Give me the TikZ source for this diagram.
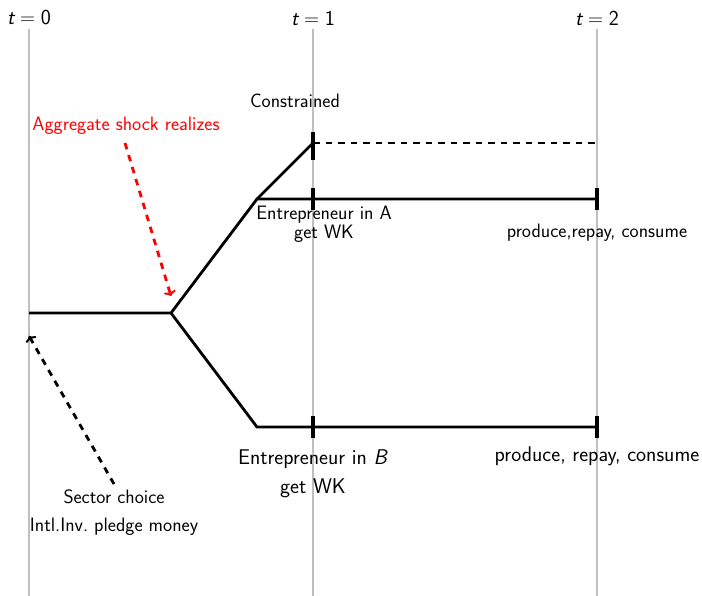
\documentclass[tikz,border=0pt]{standalone}
\usepackage{fontspec}
\usetikzlibrary{arrows.meta}
\newcommand{\timelabel}[1]{$\textit{t}=\mbox{#1}$}
\begin{document}
\sffamily
\begin{tikzpicture}[x=1pt,y=-1pt,
  timeline/.style={draw=black!25, line width=1.5pt},
  branch/.style={line width=2.8pt, line cap=butt, line join=miter},
  tick/.style={line width=3.2pt},
  pending/.style={line width=2.8pt, dash pattern=on 6.5pt off 6pt},
  hint/.style={line width=2.8pt, dash pattern=on 6.5pt off 6pt, -{To[length=5pt,width=12pt,line width=2pt]}},
  bigtext/.style={inner sep=0pt, align=center, font=\fontsize{21.3}{25}\selectfont},
  smalltext/.style={inner sep=0pt, align=center, font=\fontsize{19.4}{23}\selectfont}
]
\useasboundingbox (0,0) rectangle (702,596);

% time axis
\foreach \x/\t in {29/0, 313/1, 597/2} {
  \coordinate (top\t) at (\x,29);
  \coordinate (bot\t) at (\x,596);
  \draw[timeline] (top\t) -- (bot\t);
  \node[bigtext] (time\t) at (\x,18) {\timelabel{\t}};
}

% tree points
\coordinate (root) at (29,313);
\coordinate (split) at (171,313);
\coordinate (forkA) at (257,199);
\coordinate (con) at (313,143);
\coordinate (conEnd) at (597,143);
\coordinate (midA) at (313,199);
\coordinate (endA) at (597,199);
\coordinate (forkB) at (257,427);
\coordinate (midB) at (313,427);
\coordinate (endB) at (597,427);

% branches
\draw[branch] (root) -- (split) -- (forkA) -- (endA);
\draw[branch] (forkA) -- (con);
\draw[branch] (split) -- (forkB) -- (endB);
\draw[pending] (con) -- (conEnd);

% ticks
\draw[tick] ([yshift=-17pt]con) -- ([yshift=11pt]con);
\foreach \p in {midA, endA, midB, endB}
  \draw[tick] ([yshift=-11pt]\p) -- ([yshift=11pt]\p);

% labels
\node[smalltext] (constr) at (295,101) {Constrained};
\node[smalltext, text=red] (shock) at (126,126) {Aggregate shock realizes};
\node[smalltext, font=\fontsize{19.4}{18.5}\selectfont] (entA) at (324,224) {Entrepreneur in A\\get WK};
\node[smalltext] (prodA) at (597,233) {produce,repay, consume};
\node[bigtext, font=\fontsize{21.3}{29}\selectfont] (entB) at (313,474) {Entrepreneur in \textit{B}\\get WK};
\node[bigtext] (prodB) at (597,456) {produce, repay, consume};
\node[smalltext, font=\fontsize{19.4}{28}\selectfont] (sector) at (114,513) {Sector choice\\Intl.Inv.\ pledge money};

% annotation arrows
\coordinate (shockTail) at (125,143);
\coordinate (shockTip) at (171,296);
\coordinate (sectorTail) at (114,484);
\coordinate (sectorTip) at (29,336);
\draw[hint, red] (shockTail) -- (shockTip);
\draw[hint] (sectorTail) -- (sectorTip);
\end{tikzpicture}
\end{document}
